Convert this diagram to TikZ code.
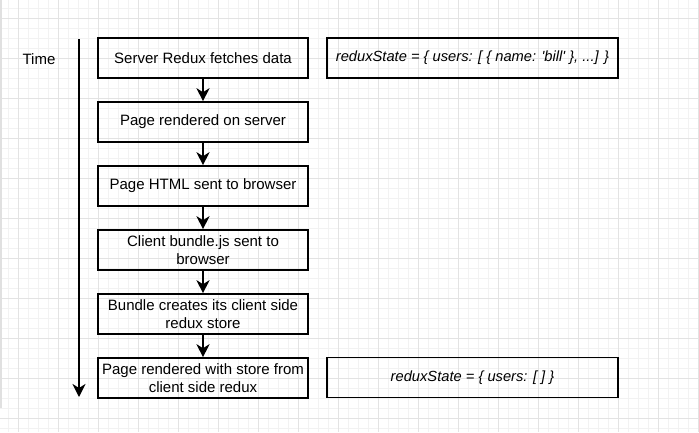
\documentclass[tikz,border=0pt]{standalone}
\usepackage{fontspec}
\setmainfont{Liberation Sans}
\usetikzlibrary{arrows.meta}

\tikzset{
	minorgrid/.style={draw=black!5, line width=0.6pt},
	majorgrid/.style={draw=black!11, line width=0.8pt},
	stepbox/.style={draw, line width=1.6pt, minimum width=210pt, minimum height=40pt, inner sep=0pt, align=center, font=\fontsize{15}{18}\selectfont},
	statebox/.style={stepbox, minimum width=291pt, font=\fontsize{14.7}{18}\selectfont\itshape},
	flow/.style={line width=2pt, -{Stealth[length=13pt, width=13pt, inset=4pt]}},
}

\begin{document}
\begin{tikzpicture}[x=1pt, y=-1pt]
			\useasboundingbox (0,0) rectangle (699,432);
			% background grid
			\foreach \g in {8,18,...,698} {
				\draw[minorgrid] (\g,0) -- (\g,432);
			}
			\foreach \g in {8,18,...,428} {
				\draw[minorgrid] (0,\g) -- (699,\g);
			}
			\foreach \g in {18,58,...,698} {
				\draw[majorgrid] (\g,0) -- (\g,432);
			}
			\foreach \g in {18,58,...,418} {
				\draw[majorgrid] (0,\g) -- (699,\g);
			}
			\draw[black!12, line width=1.5pt] (1,0) -- (1,408);

			% time axis
			\coordinate (t0) at (79,39);
			\coordinate (t1) at (79,397);
			\draw[flow] (t0) -- (t1);
			\node (time) at (39,59) {\fontsize{15}{18}\selectfont Time};

			% steps
			\node[stepbox] (fetch) at (203,58) {Server Redux fetches data};
			\node[stepbox] (render) at (203,122) {Page rendered on server};
			\node[stepbox] (html) at (203,186) {Page HTML sent to browser};
			\node[stepbox] (bundle) at (203,250) {Client bundle.js sent to\\browser};
			\node[stepbox] (store) at (203,314) {Bundle creates its client side\\redux store};
			\node[stepbox] (hydrate) at (203,378) {Page rendered with store from\\client side redux};

			\draw[flow] (fetch) -- (render);
			\draw[flow] (render) -- (html);
			\draw[flow] (html) -- (bundle);
			\draw[flow] (bundle) -- (store);
			\draw[flow] (store) -- (hydrate);

			% state on each side
			\node[statebox] (serverstate) at (472.5,58) {reduxState = \{ users: [ \{ name: \textquotesingle bill\textquotesingle\ \}, ...] \}};
			\node[statebox] (clientstate) at (472.5,377.5) {reduxState = \{ users: [ ] \}};
		\end{tikzpicture}
\end{document}
